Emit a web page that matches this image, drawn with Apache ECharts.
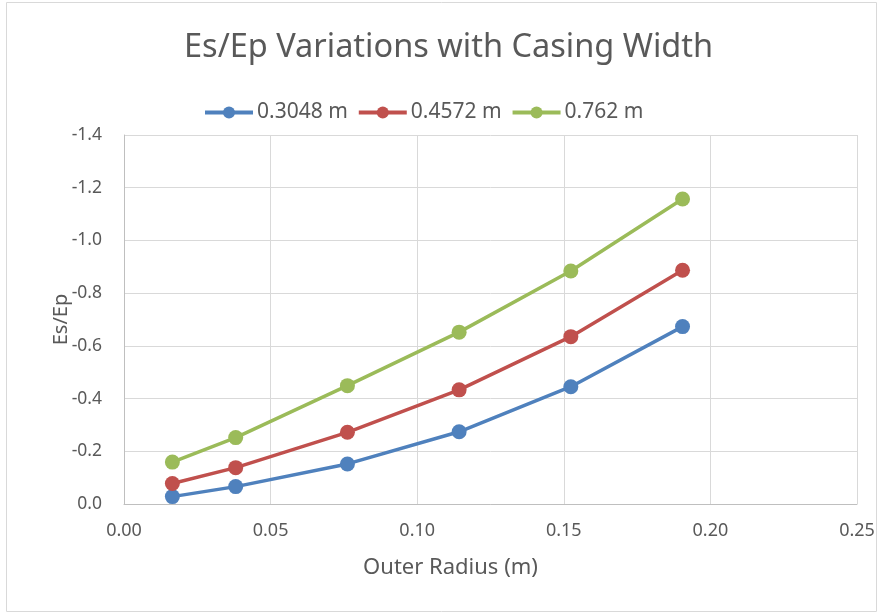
<!DOCTYPE html>
<html>
<head>
<meta charset="utf-8">
<script src="https://cdn.jsdelivr.net/npm/echarts@6/dist/echarts.min.js"></script>
<style>
  html, body { margin: 0; padding: 0; background: #fff; }
  #chart { width: 881px; height: 615px; }
</style>
</head>
<body>
<div id="chart"></div>
<script>
// Outer radius of the casing (m)
const outerRadius = [0.0165, 0.0381, 0.0762, 0.1143, 0.1524, 0.1905];

// Es/Ep ratio for each casing width
const seriesNames = ['0.3048 m', '0.4572 m', '0.762 m'];
const esEp_03048 = [-0.028, -0.066, -0.152, -0.274, -0.445, -0.673];
const esEp_04572 = [-0.078, -0.138, -0.272, -0.433, -0.635, -0.887];
const esEp_0762  = [-0.159, -0.252, -0.449, -0.652, -0.884, -1.157];

const colors = ['#4F81BD', '#C0504D', '#9BBB59'];
const FONT = '"Noto Sans", "Open Sans", sans-serif';
const TEXT = '#595959';

function pairs(ys) {
  return outerRadius.map((x, i) => [x, ys[i]]);
}

const chart = echarts.init(document.getElementById('chart'));
chart.setOption({
  animation: false,
  color: colors,
  graphic: [{
    type: 'rect',
    shape: { x: 6.5, y: 2.5, width: 870, height: 609 },
    style: { fill: 'none', stroke: '#d9d9d9', lineWidth: 1 },
    silent: true
  }],
  title: {
    text: 'Es/Ep Variations with Casing Width',
    left: 179,
    top: 26,
    textStyle: { fontFamily: FONT, fontSize: 32.5, fontWeight: 'normal', color: TEXT }
  },
  legend: {
    top: 97,
    left: 198,
    itemWidth: 48,
    itemHeight: 15,
    itemGap: 9,
    lineStyle: { width: 4 },
    textStyle: { fontFamily: FONT, fontSize: 21, color: TEXT, padding: [0, 0, 0, -1] },
    data: seriesNames
  },
  grid: { left: 124, right: 24, top: 135, bottom: 111, containLabel: false },
  xAxis: {
    type: 'value',
    min: 0, max: 0.25, interval: 0.05,
    name: 'Outer Radius (m)',
    nameLocation: 'middle',
    nameGap: 53,
    nameMoveOverlap: false,
    nameTextStyle: { fontFamily: FONT, fontSize: 22, color: TEXT, padding: [0, 80, 0, 0] },
    axisLine: { onZero: false, lineStyle: { color: '#bfbfbf', width: 1 } },
    axisTick: { show: false },
    axisLabel: {
      fontFamily: FONT, fontSize: 18, color: TEXT, margin: 18,
      formatter: v => v.toFixed(2)
    },
    splitLine: { show: true, lineStyle: { color: '#d9d9d9', width: 1 } }
  },
  yAxis: {
    type: 'value',
    min: -1.4, max: 0, interval: 0.2,
    inverse: true,
    name: 'Es/Ep',
    nameLocation: 'middle',
    nameGap: 53,
    nameMoveOverlap: false,
    nameRotate: 90,
    nameTextStyle: { fontFamily: FONT, fontSize: 20, color: TEXT },
    axisLine: { show: true, onZero: false, lineStyle: { color: '#bfbfbf', width: 1 } },
    axisTick: { show: false },
    axisLabel: {
      fontFamily: FONT, fontSize: 17.5, color: TEXT, margin: 22,
      formatter: v => (Math.abs(v) < 1e-9 ? 0 : v).toFixed(1)
    },
    splitLine: { show: true, lineStyle: { color: '#d9d9d9', width: 1 } }
  },
  series: [esEp_03048, esEp_04572, esEp_0762].map((ys, i) => ({
    name: seriesNames[i],
    type: 'line',
    data: pairs(ys),
    symbol: 'circle',
    symbolSize: 15,
    lineStyle: { width: 3.5, color: colors[i] },
    itemStyle: { color: colors[i] }
  }))
});
</script>
</body>
</html>
